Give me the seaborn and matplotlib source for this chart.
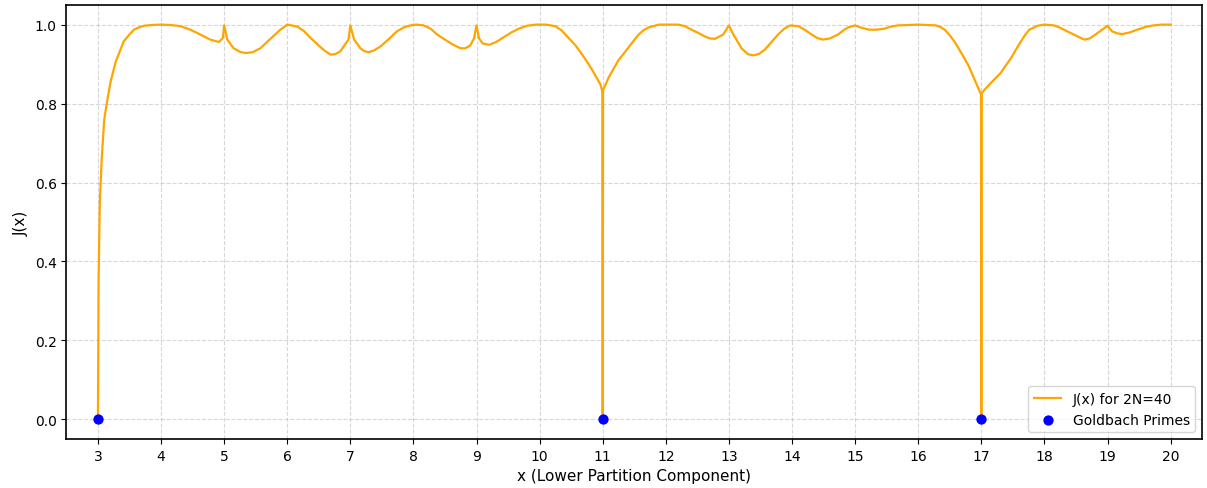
import pandas as pd
import matplotlib
matplotlib.use('Agg')
import matplotlib.pyplot as plt
import seaborn as sns

# Valores (curva J(x) para 2N=40)
x_vals = [3.0, 3.01, 3.03, 3.06, 3.1, 3.15, 3.2, 3.28, 3.41, 3.5, 3.57, 3.65, 3.73, 3.85,
          4.0, 4.15, 4.31, 4.45, 4.57, 4.78, 4.915, 4.98, 5.0, 5.05, 5.15, 5.25, 5.34,
          5.45, 5.575, 5.72, 5.89, 6.0, 6.16, 6.27, 6.37, 6.52, 6.6, 6.685, 6.76, 6.84,
          6.97, 7.0, 7.06, 7.16, 7.22, 7.29, 7.38, 7.48, 7.6, 7.74, 7.85, 7.95, 8.05,
          8.16, 8.27, 8.375, 8.5, 8.62, 8.745, 8.82, 8.9, 8.96, 9.0, 9.04, 9.1, 9.2,
          9.3, 9.41, 9.55, 9.675, 9.8, 9.94, 10.1, 10.25, 10.35, 10.46, 10.57, 10.675,
          10.75, 10.83, 10.9, 10.965, 10.995, 11.0, 11.005, 11.04, 11.09, 11.15, 11.25,
          11.36, 11.47, 11.57, 11.65, 11.73, 11.89, 12.05, 12.2, 12.3, 12.41, 12.5,
          12.62, 12.7, 12.78, 12.91, 13.0, 13.07, 13.2, 13.3, 13.39, 13.48, 13.57,
          13.68, 13.78, 13.88, 13.97, 14.1, 14.2, 14.31, 14.4, 14.49, 14.6, 14.73,
          14.82, 14.89, 15.0, 15.08, 15.15, 15.23, 15.31, 15.39, 15.47, 15.57, 15.68,
          15.84, 16.0, 16.15, 16.28, 16.35, 16.42, 16.5, 16.57, 16.65, 16.73, 16.8,
          16.86, 16.94, 16.995, 17.0, 17.005, 17.03, 17.08, 17.15, 17.23, 17.31, 17.39,
          17.47, 17.55, 17.63, 17.7, 17.76, 17.89, 18.0, 18.07, 18.15, 18.25, 18.36,
          18.5, 18.63, 18.72, 18.81, 19.0, 19.07, 19.15, 19.23, 19.35, 19.47, 19.6,
          19.73, 19.86, 20.0]
j_vals = [0.0, 0.35, 0.55, 0.66, 0.76, 0.81, 0.855, 0.905, 0.958, 0.975, 0.987, 0.993, 0.997, 0.999,
          1.0, 0.999, 0.996, 0.988, 0.979, 0.962, 0.956, 0.966, 0.998, 0.962, 0.94, 0.931, 0.928,
          0.93, 0.94, 0.962, 0.987, 1.0, 0.995, 0.983, 0.966, 0.944, 0.933, 0.924, 0.925, 0.932,
          0.962, 0.998, 0.962, 0.94, 0.933, 0.93, 0.935, 0.945, 0.962, 0.983, 0.993, 0.998, 1.0,
          0.998, 0.99, 0.975, 0.962, 0.95, 0.94, 0.94, 0.947, 0.965, 0.998, 0.965, 0.952, 0.949,
          0.955, 0.966, 0.98, 0.99, 0.997, 1.0, 1.0, 0.996, 0.985, 0.966, 0.947, 0.924,
          0.906, 0.886, 0.866, 0.848, 0.83, 0.0, 0.835, 0.846, 0.865, 0.882, 0.91,
          0.932, 0.955, 0.975, 0.986, 0.993, 1.0, 1.0, 1.0, 0.996, 0.987, 0.98,
          0.97, 0.965, 0.964, 0.975, 0.998, 0.975, 0.94, 0.925, 0.922, 0.926, 0.937,
          0.957, 0.975, 0.99, 0.998, 0.996, 0.987, 0.975, 0.966, 0.962, 0.965, 0.975,
          0.986, 0.993, 0.998, 0.993, 0.99, 0.987, 0.987, 0.988, 0.99, 0.995, 0.998,
          0.999, 1.0, 0.999, 0.998, 0.994, 0.987, 0.973, 0.958, 0.937, 0.915, 0.895,
          0.873, 0.844, 0.823, 0.0, 0.826, 0.831, 0.84, 0.852, 0.865, 0.878, 0.897,
          0.915, 0.937, 0.958, 0.975, 0.987, 0.997, 1.0, 0.999, 0.998, 0.992, 0.983,
          0.972, 0.962, 0.965, 0.975, 0.997, 0.983, 0.978, 0.976, 0.98, 0.987, 0.994,
          0.998, 1.0, 1.0]

primos_x = [3, 11, 17]
primos_y = [0, 0, 0]
ticks_x = list(range(3, 21))

df_curva = pd.DataFrame({'x': x_vals, 'J': j_vals})
df_primos = pd.DataFrame({'x': primos_x, 'J': primos_y})

fig, ax = plt.subplots(figsize=(12.07, 4.89), dpi=100)

sns.lineplot(data=df_curva, x='x', y='J', ax=ax, color='orange', linewidth=1.6,
             sort=False, estimator=None, label='J(x) for 2N=40')
sns.scatterplot(data=df_primos, x='x', y='J', ax=ax, color='blue', s=55,
                edgecolor='blue', linewidth=0, zorder=5, label='Goldbach Primes')

ax.set_xlim(2.5, 20.5)
ax.set_ylim(-0.05, 1.05)
ax.set_xticks(ticks_x)
ax.set_yticks([0.0, 0.2, 0.4, 0.6, 0.8, 1.0])
ax.tick_params(labelsize=10)
ax.set_xlabel('x (Lower Partition Component)', fontsize=11)
ax.set_ylabel('J(x)', fontsize=11)
ax.grid(True, linestyle='--', alpha=0.5)
for s in ax.spines.values():
    s.set_linewidth(1.2)
ax.legend(loc='lower right', fontsize=10)

plt.subplots_adjust(left=0.055, right=0.996, top=0.988, bottom=0.1)
plt.savefig('out.png', dpi=100)
